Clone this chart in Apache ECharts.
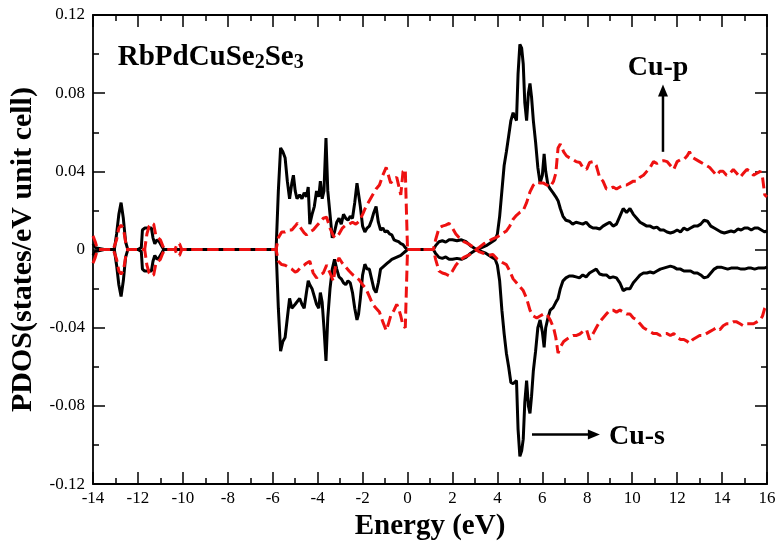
<!DOCTYPE html>
<html><head><meta charset="utf-8">
<script src="https://cdn.jsdelivr.net/npm/echarts@6/dist/echarts.min.js"></script>
<style>html,body{margin:0;padding:0;background:#fff}#c{width:781px;height:546px}</style>
</head><body><div id="c"></div>
<script>
// ---- Cu-s (black, solid) ----
const energyS = [-14,-13.9,-13.5,-13.05,-12.95,-12.85,-12.75,-12.65,-12.55,-12.45,-12.0,-11.85,-11.8,-11.7,-11.55,-11.4,-11.33,-11.25,-11.15,-11.05,-10.95,-10.85,-10.5,
 -5.85,-5.75,-5.65,-5.55,-5.45,-5.35,-5.25,-5.15,-5.08,-5.0,-4.92,-4.8,-4.7,-4.6,-4.5,-4.42,-4.35,-4.25,-4.15,-4.05,-3.95,-3.88,-3.8,-3.72,-3.63,-3.55,-3.45,-3.35,-3.25,-3.15,-3.05,-2.95,-2.85,-2.75,-2.65,-2.55,-2.45,-2.35,-2.25,-2.18,-2.1,-2.0,-1.9,-1.8,-1.7,-1.6,-1.5,-1.4,-1.3,-1.2,-1.1,-1.0,-0.9,-0.8,-0.7,-0.6,-0.5,-0.4,-0.3,-0.2,-0.1,0,
 1.15,1.25,1.4,1.55,1.7,1.85,2.0,2.2,2.4,2.6,2.8,3.0,3.1,3.3,3.5,3.7,3.9,4.0,
 4.1,4.2,4.3,4.4,4.5,4.6,4.7,4.78,4.85,4.92,5.0,5.08,5.15,5.22,5.3,5.38,5.45,5.52,5.6,5.7,5.8,5.9,6.0,6.08,6.15,6.25,6.35,6.48,6.6,6.7,6.8,6.92,7.05,7.2,7.35,7.5,7.65,7.8,7.95,8.1,8.25,8.4,8.55,8.7,8.85,9.0,9.15,9.3,9.45,9.6,9.75,9.9,10.05,10.2,10.35,10.5,10.65,10.8,10.95,11.1,11.25,11.4,11.55,11.7,11.85,12.0,12.15,12.3,12.45,12.6,12.75,12.9,13.05,13.2,13.35,13.5,13.65,13.8,13.95,14.1,14.25,14.4,14.55,14.7,14.85,15.0,15.15,15.3,15.45,15.6,15.75,15.9,16.0];
const sUp = [0.003,0.001,0,0,0.008,0.018,0.024,0.016,0.004,0,0,0.001,0.010,0.011,0.011,0.011,0.006,0.003,0.005,0.004,0.002,0,0,
 0,0.030,0.052,0.050,0.047,0.035,0.026,0.034,0.038,0.030,0.026,0.028,0.026,0.029,0.027,0.032,0.013,0.018,0.022,0.030,0.027,0.035,0.026,0.030,0.057,0.030,0.018,0.006,0.009,0.014,0.016,0.013,0.018,0.016,0.015,0.017,0.016,0.024,0.034,0.035,0.022,0.012,0.009,0.011,0.012,0.015,0.019,0.022,0.014,0.010,0.011,0.009,0.0095,0.008,0.0075,0.005,0.0045,0.004,0.003,0.0025,0.001,0,
 0,0.002,0.004,0.0045,0.0038,0.005,0.005,0.0045,0.005,0.004,0.002,0.0005,0,0.001,0.002,0.0035,0.005,0.008,
 0.017,0.030,0.043,0.050,0.058,0.066,0.070,0.071,0.066,0.090,0.105,0.103,0.095,0.075,0.066,0.080,0.085,0.078,0.066,0.055,0.042,0.034,0.038,0.049,0.040,0.033,0.031,0.029,0.027,0.025,0.021,0.017,0.015,0.0145,0.013,0.014,0.0135,0.013,0.014,0.012,0.011,0.011,0.0105,0.012,0.013,0.014,0.012,0.013,0.017,0.021,0.019,0.021,0.018,0.016,0.014,0.013,0.012,0.012,0.011,0.0115,0.010,0.010,0.009,0.0085,0.009,0.010,0.009,0.011,0.010,0.011,0.012,0.012,0.013,0.015,0.0145,0.012,0.011,0.010,0.009,0.0085,0.009,0.0095,0.009,0.0105,0.010,0.011,0.011,0.010,0.011,0.011,0.010,0.009,0.0095];
const sDown = [-0.003,-0.001,0,0,-0.008,-0.018,-0.024,-0.016,-0.004,0,0,-0.001,-0.010,-0.011,-0.011,-0.011,-0.006,-0.003,-0.005,-0.004,-0.002,0,0,
 0,-0.030,-0.052,-0.047,-0.045,-0.035,-0.025,-0.030,-0.031,-0.028,-0.027,-0.025,-0.028,-0.030,-0.022,-0.016,-0.018,-0.020,-0.024,-0.028,-0.030,-0.022,-0.027,-0.040,-0.057,-0.035,-0.020,-0.010,-0.005,-0.010,-0.014,-0.015,-0.017,-0.018,-0.016,-0.017,-0.022,-0.030,-0.036,-0.033,-0.025,-0.013,-0.0075,-0.010,-0.010,-0.015,-0.020,-0.022,-0.017,-0.010,-0.009,-0.008,-0.007,-0.006,-0.005,-0.0045,-0.004,-0.0035,-0.003,-0.002,-0.001,0,
 0,-0.002,-0.004,-0.0045,-0.0038,-0.005,-0.005,-0.0045,-0.005,-0.004,-0.002,-0.0005,0,-0.001,-0.002,-0.0035,-0.005,-0.008,
 -0.016,-0.031,-0.043,-0.053,-0.060,-0.068,-0.0686,-0.069,-0.067,-0.092,-0.1058,-0.103,-0.097,-0.078,-0.067,-0.080,-0.0838,-0.075,-0.062,-0.052,-0.040,-0.036,-0.042,-0.050,-0.040,-0.035,-0.031,-0.0297,-0.027,-0.025,-0.020,-0.016,-0.0145,-0.0135,-0.0135,-0.014,-0.0145,-0.013,-0.014,-0.012,-0.011,-0.010,-0.0125,-0.013,-0.013,-0.0145,-0.014,-0.0145,-0.017,-0.021,-0.020,-0.020,-0.017,-0.015,-0.013,-0.012,-0.012,-0.0115,-0.012,-0.011,-0.010,-0.0095,-0.009,-0.0085,-0.009,-0.010,-0.010,-0.011,-0.011,-0.011,-0.012,-0.012,-0.013,-0.0145,-0.014,-0.012,-0.010,-0.009,-0.009,-0.0095,-0.010,-0.0095,-0.0095,-0.0095,-0.010,-0.010,-0.0095,-0.0095,-0.010,-0.0095,-0.0094,-0.0094,-0.009];

// ---- Cu-p (red, dashed) ----
const energyP = [-14,-13.9,-13.8,-13.1,-12.95,-12.85,-12.75,-12.65,-12.55,-12.45,-11.7,-11.6,-11.5,-11.4,-11.3,-11.2,-11.1,-11.0,-10.9,-10.8,-10.35,-10.25,-10.15,-10.05,
 -5.85,-5.75,-5.6,-5.45,-5.3,-5.15,-5.0,-4.9,-4.75,-4.6,-4.5,-4.35,-4.2,-4.05,-3.9,-3.75,-3.6,-3.45,-3.3,-3.2,-3.05,-2.9,-2.75,-2.6,-2.45,-2.3,-2.15,-2.0,-1.85,-1.7,-1.55,-1.4,-1.25,-1.1,-0.95,-0.85,-0.75,-0.6,-0.48,-0.4,-0.3,-0.2,-0.1,-0.05,0,
 1.15,1.25,1.4,1.55,1.7,1.85,2.0,2.15,2.3,2.5,2.7,2.9,3.05,3.2,3.4,3.6,3.8,4.0,4.2,4.4,4.55,4.7,4.85,5.0,5.15,5.3,5.45,5.6,5.75,5.9,6.05,6.2,6.35,6.5,6.6,6.7,6.8,6.95,7.07,7.2,7.37,7.5,7.67,7.8,7.97,8.1,8.26,8.4,8.55,8.7,8.85,9.0,9.15,9.3,9.45,9.6,9.75,9.9,10.05,10.2,10.35,10.5,10.65,10.8,10.95,11.1,11.25,11.4,11.55,11.7,11.85,12.0,12.15,12.3,12.45,12.55,12.7,12.85,13.0,13.15,13.3,13.45,13.6,13.75,13.9,14.05,14.2,14.35,14.5,14.65,14.8,14.95,15.1,15.25,15.4,15.55,15.7,15.8,15.9,16.0];
const pUp = [0.007,0.004,0,0,0.005,0.011,0.0125,0.011,0.004,0,0,0.008,0.012,0.0135,0.013,0.007,0.006,0.005,0.002,0,0,0.003,0.003,0,
 0,0.006,0.009,0.009,0.010,0.010,0.012,0.0135,0.011,0.0085,0.0075,0.009,0.010,0.012,0.014,0.016,0.0165,0.011,0.007,0.006,0.008,0.011,0.0125,0.013,0.014,0.013,0.0145,0.018,0.022,0.025,0.028,0.031,0.033,0.038,0.042,0.038,0.034,0.036,0.037,0.033,0.028,0.040,0.041,0.020,0,
 0,0.005,0.011,0.012,0.0125,0.0134,0.011,0.008,0.006,0.004,0.003,0.0015,0,0.0012,0.003,0.0042,0.0055,0.0065,0.008,0.0095,0.012,0.0155,0.0175,0.019,0.020,0.024,0.0295,0.033,0.0345,0.034,0.034,0.033,0.032,0.035,0.039,0.052,0.054,0.050,0.048,0.047,0.046,0.045,0.0445,0.042,0.041,0.0445,0.045,0.043,0.037,0.035,0.031,0.031,0.032,0.031,0.032,0.033,0.033,0.034,0.035,0.035,0.037,0.038,0.040,0.042,0.045,0.044,0.045,0.0455,0.045,0.043,0.041,0.045,0.046,0.046,0.048,0.050,0.047,0.046,0.045,0.044,0.043,0.042,0.040,0.038,0.040,0.040,0.038,0.039,0.041,0.039,0.037,0.039,0.041,0.040,0.038,0.039,0.040,0.037,0.028,0.027];
const pDown = [-0.007,-0.004,0,0,-0.005,-0.011,-0.0125,-0.011,-0.004,0,0,-0.008,-0.012,-0.0135,-0.013,-0.007,-0.006,-0.005,-0.002,0,0,-0.003,-0.003,0,
 0,-0.006,-0.0077,-0.008,-0.009,-0.010,-0.0115,-0.011,-0.009,-0.008,-0.007,-0.006,-0.012,-0.0145,-0.013,-0.012,-0.008,-0.012,-0.0162,-0.008,-0.0043,-0.007,-0.009,-0.011,-0.0128,-0.014,-0.0155,-0.018,-0.020,-0.024,-0.028,-0.030,-0.032,-0.037,-0.0414,-0.038,-0.034,-0.031,-0.028,-0.030,-0.034,-0.039,-0.040,-0.020,0,
 0,-0.005,-0.011,-0.012,-0.0125,-0.0134,-0.011,-0.008,-0.006,-0.004,-0.003,-0.0015,0,-0.0012,-0.002,-0.003,-0.0025,-0.005,-0.0065,-0.0077,-0.011,-0.015,-0.017,-0.019,-0.021,-0.025,-0.031,-0.034,-0.035,-0.034,-0.033,-0.033,-0.036,-0.040,-0.045,-0.053,-0.050,-0.047,-0.046,-0.045,-0.044,-0.044,-0.0432,-0.042,-0.041,-0.046,-0.043,-0.040,-0.037,-0.035,-0.033,-0.031,-0.031,-0.032,-0.031,-0.032,-0.033,-0.033,-0.035,-0.036,-0.038,-0.040,-0.041,-0.042,-0.043,-0.043,-0.044,-0.043,-0.043,-0.044,-0.043,-0.045,-0.046,-0.046,-0.047,-0.048,-0.046,-0.045,-0.044,-0.044,-0.043,-0.042,-0.041,-0.040,-0.041,-0.039,-0.038,-0.038,-0.037,-0.037,-0.038,-0.039,-0.038,-0.038,-0.038,-0.037,-0.036,-0.034,-0.030,-0.028];

const xTickValues = [-14,-12,-10,-8,-6,-4,-2,0,2,4,6,8,10,12,14,16];
const yTickLabels = ['-0.12','-0.08','-0.04','0','0.04','0.08','0.12'];

const FONT = '"Liberation Serif","Times New Roman",serif';
const pair = (xs, ys) => xs.map((x, i) => [x, ys[i]]);

const chart = echarts.init(document.getElementById('c'));
const tickCommon = { show: true, inside: true, length: 12, lineStyle: { color: '#000', width: 1.5 } };
const minorCommon = { show: true, splitNumber: 2, length: 6, lineStyle: { color: '#000', width: 1.5 } };
const lineCommon = { show: true, onZero: false, lineStyle: { color: '#000', width: 1.8 } };

chart.setOption({
  animation: false,
  backgroundColor: '#fff',
  grid: { left: 93, right: 14, top: 15, bottom: 58 },
  xAxis: [{
    type: 'value', min: -14, max: 16, interval: 2, position: 'bottom',
    axisLine: lineCommon, axisTick: tickCommon, minorTick: minorCommon, splitLine: { show: false },
    axisLabel: { fontFamily: FONT, fontSize: 17, color: '#000', margin: 6 },
    name: 'Energy (eV)', nameLocation: 'middle', nameGap: 21,
    nameTextStyle: { fontFamily: FONT, fontSize: 29, fontWeight: 'bold', color: '#000' }
  }, {
    type: 'value', min: -14, max: 16, interval: 2, position: 'top',
    axisLine: lineCommon, axisTick: tickCommon, minorTick: minorCommon, splitLine: { show: false },
    axisLabel: { show: false }
  }],
  yAxis: [{
    type: 'value', min: -0.12, max: 0.12, interval: 0.04, position: 'left',
    axisLine: lineCommon, axisTick: tickCommon, minorTick: minorCommon, splitLine: { show: false },
    axisLabel: { fontFamily: FONT, fontSize: 17, color: '#000', margin: 8,
      formatter: v => yTickLabels[Math.round((v + 0.12) / 0.04)] },
    name: 'PDOS(states/eV unit cell)', nameLocation: 'middle', nameGap: 46,
    nameTextStyle: { fontFamily: FONT, fontSize: 30, fontWeight: 'bold', color: '#000' }
  }, {
    type: 'value', min: -0.12, max: 0.12, interval: 0.04, position: 'right',
    axisLine: lineCommon, axisTick: tickCommon, minorTick: minorCommon, splitLine: { show: false },
    axisLabel: { show: false }
  }],
  series: [
    { name: 'Cu-s up', type: 'line', data: pair(energyS, sUp), showSymbol: false, symbol: 'none',
      lineStyle: { color: '#000', width: 3 }, z: 2 },
    { name: 'Cu-s down', type: 'line', data: pair(energyS, sDown), showSymbol: false, symbol: 'none',
      lineStyle: { color: '#000', width: 3 }, z: 2 },
    { name: 'Cu-p up', type: 'line', data: pair(energyP, pUp), showSymbol: false, symbol: 'none',
      lineStyle: { color: '#ee1111', width: 3, type: [11, 5] }, z: 3 },
    { name: 'Cu-p down', type: 'line', data: pair(energyP, pDown), showSymbol: false, symbol: 'none',
      lineStyle: { color: '#ee1111', width: 3, type: [11, 5] }, z: 3 }
  ]
});

const P = (x, y) => chart.convertToPixel({ xAxisIndex: 0, yAxisIndex: 0 }, [x, y]);
const pTail = P(11.37, 0.050), pTip = P(11.37, 0.0845);
const sTail = P(5.54, -0.0946), sTip = P(8.56, -0.0946);
const pText = P(11.15, 0.093), sText = P(10.21, -0.0956);
const titlePos = P(-12.9, 0.1055);

chart.setOption({
  graphic: [
    { type: 'text', left: titlePos[0], top: titlePos[1], z: 10,
      style: { text: '{a|RbPdCuSe}{b|2}{a|Se}{b|3}', rich: {
        a: { fontFamily: FONT, fontSize: 29, fontWeight: 'bold', fill: '#000', lineHeight: 30 },
        b: { fontFamily: FONT, fontSize: 20, fontWeight: 'bold', fill: '#000', lineHeight: 16, verticalAlign: 'bottom' }
      } } },
    { type: 'line', z: 10, shape: { x1: pTail[0], y1: pTail[1], x2: pTip[0], y2: pTip[1] + 10 },
      style: { stroke: '#000', lineWidth: 2.5 } },
    { type: 'polygon', z: 10, shape: { points: [[pTip[0], pTip[1]], [pTip[0] - 5, pTip[1] + 12], [pTip[0] + 5, pTip[1] + 12]] },
      style: { fill: '#000' } },
    { type: 'text', z: 10, x: pText[0], y: pText[1],
      style: { text: 'Cu-p', fontFamily: FONT, fontSize: 28, fontWeight: 'bold', fill: '#000', align: 'center', verticalAlign: 'middle' } },
    { type: 'line', z: 10, shape: { x1: sTail[0], y1: sTail[1], x2: sTip[0] - 10, y2: sTip[1] },
      style: { stroke: '#000', lineWidth: 2.5 } },
    { type: 'polygon', z: 10, shape: { points: [[sTip[0], sTip[1]], [sTip[0] - 12, sTip[1] - 5], [sTip[0] - 12, sTip[1] + 5]] },
      style: { fill: '#000' } },
    { type: 'text', z: 10, x: sText[0], y: sText[1],
      style: { text: 'Cu-s', fontFamily: FONT, fontSize: 28, fontWeight: 'bold', fill: '#000', align: 'center', verticalAlign: 'middle' } }
  ]
});
</script>
</body></html>
